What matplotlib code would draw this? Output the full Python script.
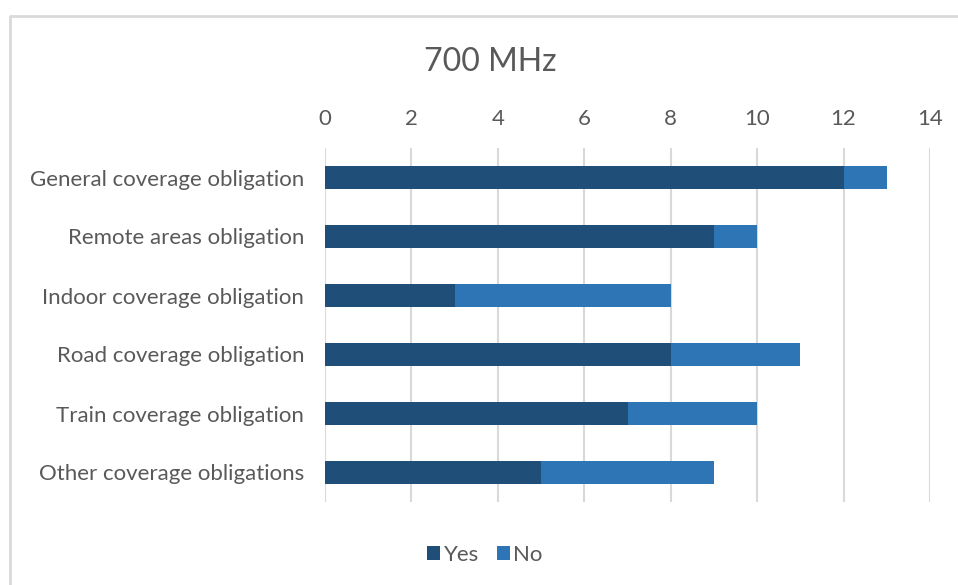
import matplotlib
matplotlib.use("Agg")
import matplotlib.pyplot as plt
from matplotlib.lines import Line2D

plt.rcParams['font.family'] = ['Lato', 'DejaVu Sans']

categories = [
    "General coverage obligation",
    "Remote areas obligation",
    "Indoor coverage obligation",
    "Road coverage obligation",
    "Train coverage obligation",
    "Other coverage obligations",
]
yes_values = [12, 9, 3, 8, 7, 5]
no_values = [1, 1, 5, 3, 3, 4]
x_ticks = [0, 2, 4, 6, 8, 10, 12, 14]

text_color = "#595959"
grid_color = "#d9d9d9"
yes_color = "#1f4e79"
no_color = "#2e75b6"

fig = plt.figure(figsize=(9.58, 5.85), dpi=100)
ax = fig.add_axes([325 / 958, 1 - 502 / 585, 605 / 958, (502 - 148) / 585])

pos = list(range(len(categories)))
ax.barh(pos, yes_values, height=0.39, color=yes_color, label="Yes", zorder=3)
ax.barh(pos, no_values, left=yes_values, height=0.39, color=no_color, label="No", zorder=3)

ax.set_xlim(0, 14)
ax.set_ylim(len(categories) - 0.5, -0.5)
ax.set_xticks(x_ticks)
ax.set_yticks(pos)
ax.set_yticklabels(categories)
ax.xaxis.tick_top()
ax.tick_params(axis="both", length=0, colors=text_color, labelsize=16)
ax.tick_params(axis="x", pad=14)
ax.tick_params(axis="y", pad=15)
ax.grid(axis="x", color=grid_color, linewidth=1.5, zorder=0)
for s in ax.spines.values():
    s.set_visible(False)

fig.text(490 / 958, 1 - 62 / 585, "700 MHz", ha="center", va="center",
         fontsize=23, color=text_color)

fig.legend(loc="center", bbox_to_anchor=(485 / 958, 1 - 555 / 585), ncol=2,
           frameon=False, fontsize=16, labelcolor=text_color,
           handlelength=0.6, handleheight=0.6, handletextpad=0.15, columnspacing=0.8)

# chart frame
fig.add_artist(Line2D([10 / 958, 10 / 958, 1.0], [0.0, 1 - 16 / 585, 1 - 16 / 585],
                      transform=fig.transFigure, color=grid_color, linewidth=2))

fig.savefig("out.png", dpi=100)
